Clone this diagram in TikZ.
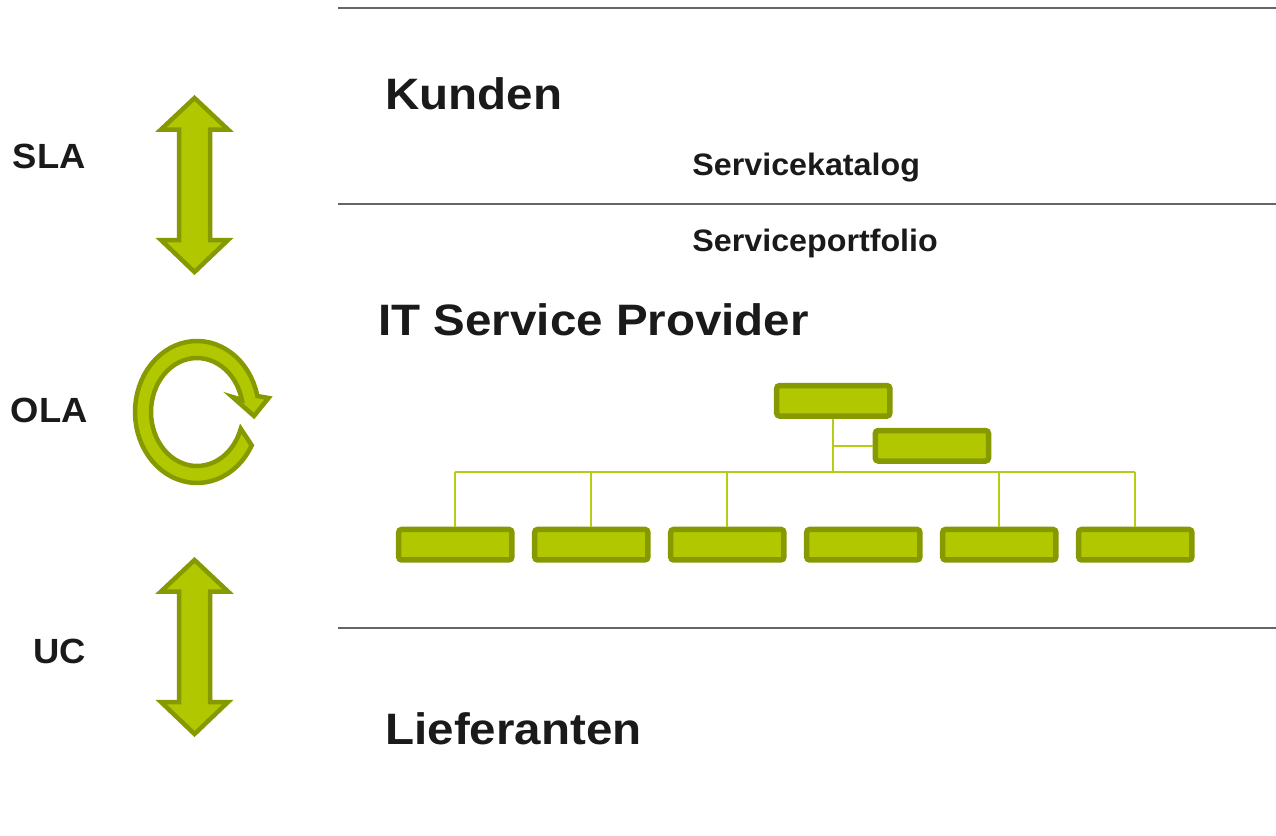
\documentclass[tikz,border=0pt]{standalone}
\usepackage{fontspec}
\setmainfont{Liberation Sans}
\newfontfamily\headfont[FakeStretch=1.08]{Liberation Sans}
\newfontfamily\bodyfont[FakeStretch=1.04]{Liberation Sans}
\usepackage{xcolor}
\usepackage{tikz}
\usetikzlibrary{positioning, calc}

\definecolor{olivefill}{HTML}{B1C800}
\definecolor{olivedark}{HTML}{869900}
\definecolor{linkgreen}{HTML}{B7CC14}
\definecolor{rulegray}{HTML}{666666}
\definecolor{ink}{HTML}{1A1A1A}

\begin{document}
\begin{tikzpicture}[
    x=0.5pt, y=-0.5pt,
    heading/.style={anchor=base west, inner sep=0, text=ink, font=\headfont\bfseries\fontsize{22pt}{22pt}\selectfont},
    subhead/.style={anchor=base west, inner sep=0, text=ink, font=\bodyfont\bfseries\fontsize{15.5pt}{15.5pt}\selectfont},
    agreement/.style={anchor=base east, inner sep=0, text=ink, font=\bodyfont\bfseries\fontsize{17.5pt}{17.5pt}\selectfont},
    unit/.style={draw=olivedark, fill=olivefill, line width=2.75pt, rounded corners=1.5pt, inner sep=0, minimum width=56.6pt, minimum height=15.25pt},
    arrowshape/.style={draw=olivedark, fill=olivefill, line width=2.25pt, line join=miter},
    link/.style={draw=linkgreen, line width=0.85pt},
    divider/.style={draw=rulegray, line width=1pt}
]
    \useasboundingbox (0,0) rectangle (1276,836);

    % layer dividers
    \draw[divider] (338,7.5) -- (1276,7.5);
    \draw[divider] (338,203.5) -- (1276,203.5);
    \draw[divider] (338,628) -- (1276,628);

    % layer texts
    \node[heading] (kunden) at (385,109) {Kunden};
    \node[subhead] (katalog) at (692,175) {Servicekatalog};
    \node[subhead] (portfolio) at (692,251.5) {Serviceportfolio};
    \node[heading] (provider) at (378,335) {IT Service Provider};
    \node[heading] (lieferanten) at (385,744) {Lieferanten};

    % agreements
    \node[agreement] (sla) at (86,168.5) {SLA};
    \node[agreement] (ola) at (88,422.5) {OLA};
    \node[agreement] (uc) at (86.5,663.5) {UC};

    % double arrows (SLA, UC)
    \foreach \dy in {0,462}
        \draw[arrowshape, shift={(194.5,\dy)}] (0,98) -- (33.5,129.5) -- (15.5,129.5) -- (15.5,240) -- (33.5,240) -- (0,272)
            -- (-33.5,240) -- (-15.5,240) -- (-15.5,129.5) -- (-33.5,129.5) -- cycle;

    % circular arrow (OLA)
    \draw[arrowshape] plot[domain=28:347, samples=60] ({197+62*cos(\x)}, {412+71*sin(\x)})
        -- (268.5,398) -- (254,416) -- (232.5,397)
        -- plot[domain=347:18, samples=60] ({197+46*cos(\x)}, {412+54*sin(\x)}) -- cycle;

    % organisation chart
    \node[unit] (head) at (833.3,400.8) {};
    \node[unit] (staff) at (931.9,445.8) {};
    \foreach \i in {1,...,6}
        \node[unit] (u\i) at ({455.3+136*(\i-1)},544.7) {};
    \coordinate (bar) at (833.3,472.3);

    \draw[link] (head.south) -- (bar);
    \draw[link] (head.south |- staff.west) -- (staff.west);
    \draw[link] (bar -| u1) -- (bar -| u6);
    \foreach \i in {1,2,3,5,6}
        \draw[link] (bar -| u\i) -- (u\i.north);
\end{tikzpicture}
\end{document}
